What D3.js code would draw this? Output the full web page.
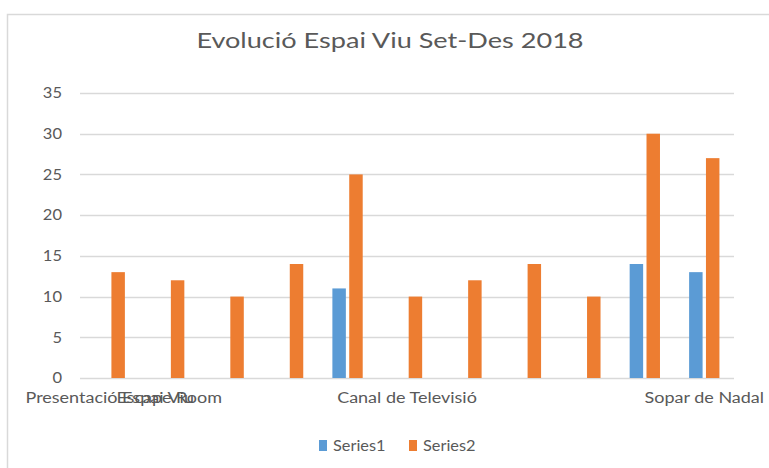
<!DOCTYPE html>
<html>
<head>
<meta charset="utf-8">
<script src="https://d3js.org/d3.v7.min.js"></script>
<style>
  body { margin: 0; background: #ffffff; }
  svg text { font-family: Lato, "Open Sans", sans-serif; fill: #595959; }
</style>
</head>
<body>
<div id="container"></div>
<script>
// categories (only some have a visible name in the original)
var categories = ["Presentació Espai Viu", "Escape Room", "", "", "", "Canal de Televisió", "", "", "", "", "Sopar de Nadal"];
var seriesNames = ["Series1", "Series2"];
var series1 = [null, null, null, null, 11, null, null, null, null, 14, 13];
var series2 = [13, 12, 10, 14, 25, 10, 12, 14, 10, 30, 27];
var yTicks = [0, 5, 10, 15, 20, 25, 30, 35];
var colors = ["#5b9bd5", "#ed7d31"];

function drawChart() {
  var width = 769, height = 468;
  var plotLeft = 80, plotRight = 734, plotTop = 93, plotBottom = 378;

  var svg = d3.select("#container").append("svg")
    .attr("width", width)
    .attr("height", height);

  // the source picture is a bit wider than the fonts, so stretch text horizontally
  function stretch(sel, k) {
    sel.each(function() {
      var w = this.getComputedTextLength();
      if (w > 0) {
        d3.select(this).attr("textLength", w * k).attr("lengthAdjust", "spacingAndGlyphs");
      }
    });
  }

  // chart frame (only top and left edges are visible in the crop)
  svg.append("path")
    .attr("d", "M7.5,470 V14.5 H780")
    .attr("fill", "none")
    .attr("stroke", "#d9d9d9")
    .attr("stroke-width", 1.5);

  var idx = d3.range(categories.length);
  var x0 = d3.scaleBand().domain(idx).range([plotLeft, plotRight]).paddingInner(0.49).paddingOuter(0.245);
  var x1 = d3.scaleBand().domain([0, 1]).range([0, x0.bandwidth()]).paddingInner(0.2);
  var y = d3.scaleLinear().domain([0, 35]).range([plotBottom, plotTop]);

  // gridlines
  svg.append("g")
    .selectAll("line")
    .data(yTicks)
    .enter().append("line")
    .attr("x1", plotLeft).attr("x2", plotRight)
    .attr("y1", function(d) { return Math.round(y(d)) + 0.5; })
    .attr("y2", function(d) { return Math.round(y(d)) + 0.5; })
    .attr("stroke", "#d9d9d9")
    .attr("stroke-width", 1.3);

  // y axis labels
  var yAxis = svg.append("g")
    .attr("transform", "translate(" + plotLeft + ",0)")
    .call(d3.axisLeft(y).tickValues(yTicks).tickSize(0).tickPadding(18));
  yAxis.select(".domain").remove();
  yAxis.selectAll("text")
    .style("font-size", "15px")
    .style("font-family", "Lato, sans-serif")
    .attr("fill", "#595959");
  stretch(yAxis.selectAll("text"), 1.1);

  // x axis labels
  var xAxis = svg.append("g")
    .attr("transform", "translate(0," + plotBottom + ")")
    .call(d3.axisBottom(x0.copy().paddingInner(0).paddingOuter(0)).tickSize(0).tickPadding(14)
      .tickFormat(function(i) { return categories[i]; }));
  xAxis.select(".domain").remove();
  xAxis.selectAll("text")
    .style("font-size", "15.5px")
    .style("font-family", "Lato, sans-serif")
    .attr("fill", "#595959");
  stretch(xAxis.selectAll("text"), 1.16);

  // bars
  var groups = svg.append("g")
    .selectAll("g")
    .data(idx)
    .enter().append("g")
    .attr("transform", function(i) { return "translate(" + x0(i) + ",0)"; });

  groups.selectAll("rect")
    .data(function(i) {
      return [series1[i], series2[i]].map(function(v, s) { return { s: s, v: v }; })
        .filter(function(d) { return d.v !== null; });
    })
    .enter().append("rect")
    .attr("x", function(d) { return x1(d.s); })
    .attr("width", x1.bandwidth())
    .attr("y", function(d) { return y(d.v); })
    .attr("height", function(d) { return y(0) - y(d.v); })
    .attr("fill", function(d) { return colors[d.s]; });

  // title
  var title = svg.append("text")
    .attr("x", 390)
    .attr("y", 48)
    .attr("text-anchor", "middle")
    .style("font-size", "21px")
    .text("Evolució Espai Viu Set-Des 2018");
  stretch(title, 1.29);

  // legend
  var legendX = [319, 409];
  var legend = svg.append("g")
    .selectAll("g")
    .data(seriesNames)
    .enter().append("g")
    .attr("transform", function(d, i) { return "translate(" + legendX[i] + ",440)"; });
  legend.append("rect")
    .attr("width", 8).attr("height", 11)
    .attr("fill", function(d, i) { return colors[i]; });
  var legendText = legend.append("text")
    .attr("x", 14)
    .attr("y", 11)
    .style("font-size", "15px")
    .text(function(d) { return d; });
  stretch(legendText, 1.09);
}

drawChart();
</script>
</body>
</html>
